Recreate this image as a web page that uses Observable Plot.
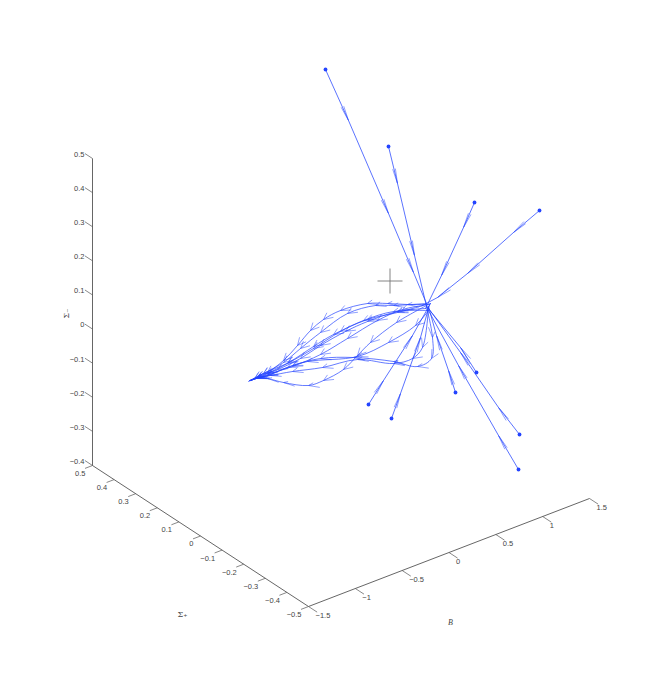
<!DOCTYPE html>
<html><head><meta charset="utf-8">
<script src="https://cdn.jsdelivr.net/npm/d3@7"></script>
<script src="https://cdn.jsdelivr.net/npm/@observablehq/plot@0.6"></script>
<style>html,body{margin:0;padding:0;background:#fff}svg{display:block;opacity:.999}</style>
</head><body><div id="chart"></div>
<script>
const bTicks=[-1.5,-1,-0.5,0,0.5,1,1.5];
const spTicks=[-0.5,-0.4,-0.3,-0.2,-0.1,0,0.1,0.2,0.3,0.4,0.5];
const smTicks=[-0.4,-0.3,-0.2,-0.1,0,0.1,0.2,0.3,0.4,0.5];
const bLabels=["−1.5","−1","−0.5","0","0.5","1","1.5"];
const spLabels=["−0.5","−0.4","−0.3","−0.2","−0.1","0","0.1","0.2","0.3","0.4","0.5"];
const smLabels=["−0.4","−0.3","−0.2","−0.1","0","0.1","0.2","0.3","0.4","0.5"];

// Ten trajectories (projected plane): straight approach, then the curve to the sink
const rayA=[[325,69],[348,120],[388,213],[413,272],[426,303]];
const rayB=[[388,146],[397,183],[414,255],[427,310]];
const rayC=[[474,202],[463,227],[441,275],[425,308]];
const rayD=[[539,210],[513,232],[467,273],[437,297],[422,305]];
const rayE=[[518,469],[498,435],[458,365],[428,310]];
const rayF=[[519,434],[498,407],[460,352],[426,305]];
const rayG=[[476,372],[460,347],[426,306]];
const rayH=[[455,392],[448,370],[436,335],[428,306]];
const rayI=[[391,418],[400,393],[420,337],[429,304]];
const rayJ=[[368,404],[383,380],[412,335],[430,303]];
const curveA=[[407,304],[387,303],[367,303],[340,310],[323,319],[310,330],[297,345],[283,360],[267,372],[257,377],[248,381]];
const curveB=[[393,311],[363,320],[340,331],[313,348],[287,363],[267,373],[256,378],[249,380]];
const curveC=[[397,311],[367,321],[345,331],[320,345],[300,358],[277,369],[258,376],[250,380]];
const curveD=[[402,309],[377,320],[347,338],[320,354],[292,366],[267,374],[256,378],[250,380]];
const curveE=[[415,325],[388,342],[357,356],[307,361],[287,367],[267,375],[256,378],[249,380]];
const curveF=[[396,322],[370,342],[357,355],[343,369],[323,380],[308,385],[283,382],[267,378],[257,377],[250,380]];
const curveG=[[432,337],[431,358],[417,366],[393,361],[353,357],[320,358],[292,365],[267,375],[255,378],[250,380]];
const curveH=[[422,347],[412,358],[393,363],[357,359],[322,367],[292,371],[270,375],[258,377],[250,380]];
const curveI=[[393,305],[375,305],[347,313],[320,332],[300,348],[283,362],[263,373],[255,377],[250,380]];
const curveJ=[[397,312],[367,319],[333,334],[313,346],[288,362],[263,373],[254,378],[249,380]];
const rays=[rayA,rayB,rayC,rayD,rayE,rayF,rayG,rayH,rayI,rayJ];
const curves=[curveI,curveB,curveC,curveD,curveE,curveF,curveG,curveH,curveA,curveJ];
const crossCentre=[389.5,280.5];

// Linear projection of the 3-D box onto the picture plane
const corner=[308,606];
const project=(b,sp,sm)=>[
  corner[0]+(b+1.5)/3*281-(sp+0.5)*216,
  corner[1]-(b+1.5)/3*108-(sp+0.5)*141-(sm+0.4)/0.9*307
];

const blue="#2444ff", axisColor="#555", textColor="#444";
const axisFont="Liberation Sans";

const rayLines=[],curveLines=[],arrows=[],starts=[];
rays.forEach((ray,k)=>{
  const hub=ray[ray.length-1];
  const pts=ray.concat(curves[k]);
  ray.forEach(p=>rayLines.push({x:p[0],y:p[1],k}));
  [hub,...curves[k]].forEach(p=>curveLines.push({x:p[0],y:p[1],k}));
  starts.push({x:ray[0][0],y:ray[0][1]});
  pts.forEach((p,i)=>{
    if(i===0||i===pts.length-1) return;
    const a=pts[i-1],c=pts[i+1];
    const n=Math.hypot(c[0]-a[0],c[1]-a[1]);
    const d=[(c[0]-a[0])/n,(c[1]-a[1])/n];
    let w1,w2;
    if(i<ray.length-1){
      w1=[p[0]-15*d[0]-1.4*d[1],p[1]-15*d[1]+1.4*d[0]];
      w2=[p[0]-15*d[0]+1.4*d[1],p[1]-15*d[1]-1.4*d[0]];
    } else if(i>=ray.length){
      w1=[p[0]-8*d[0]+4*0.82,p[1]-8*d[1]+4*0.57];
      w2=[p[0]-8*d[0]-4*0.82,p[1]-8*d[1]-4*0.57];
    } else return;
    arrows.push({x1:p[0],y1:p[1],x2:w1[0],y2:w1[1]});
    arrows.push({x1:p[0],y1:p[1],x2:w2[0],y2:w2[1]});
  });
});

const axisSegs=[
  {a:project(-1.5,-0.5,-0.4),b:project(1.5,-0.5,-0.4)},
  {a:project(-1.5,-0.5,-0.4),b:project(-1.5,0.5,-0.4)},
  {a:project(-1.5,0.5,-0.4),b:project(-1.5,0.5,0.5)}
];
const tickSegs=[
  ...bTicks.map(t=>({a:project(t,-0.5,-0.4),b:project(t,-0.54,-0.4)})),
  ...spTicks.map(t=>({a:project(-1.5,t,-0.4),b:project(-1.58,t,-0.4)})),
  ...smTicks.map(t=>({a:project(-1.5,0.5,t),b:project(-1.5,0.535,t)}))
];
const bText=bTicks.map((t,i)=>{const p=project(t,-0.5,-0.4);return{x:p[0],y:p[1],t:bLabels[i]}});
const spText=spTicks.map((t,i)=>{const p=project(-1.5,t,-0.4);return{x:p[0],y:p[1],t:spLabels[i]}});
const smText=smTicks.map((t,i)=>{const p=project(-1.5,0.5,t);return{x:p[0],y:p[1],t:smLabels[i]}});
const seg=(data,o)=>Plot.link(data,{x1:d=>d.a[0],y1:d=>d.a[1],x2:d=>d.b[0],y2:d=>d.b[1],...o});

const chart=Plot.plot({
  width:658,height:681,margin:0,
  x:{domain:[0,658],range:[0,658],axis:null},
  y:{domain:[0,681],range:[0,681],axis:null},
  style:{background:"#fff"},
  marks:[
    seg(axisSegs,{stroke:axisColor,strokeWidth:0.9}),
    seg(tickSegs,{stroke:axisColor,strokeWidth:0.7}),
    Plot.text(bText,{x:"x",y:"y",text:"t",textAnchor:"start",dx:7,dy:9,fontSize:7.5,fontFamily:axisFont,fill:textColor}),
    Plot.text(spText,{x:"x",y:"y",text:"t",textAnchor:"end",dx:-7,dy:8,fontSize:7.5,fontFamily:axisFont,fill:textColor}),
    Plot.text(smText,{x:"x",y:"y",text:"t",textAnchor:"end",dx:-8,dy:-4,fontSize:7.5,fontFamily:axisFont,fill:textColor}),
    Plot.text(["Σ₊"],{x:[182],y:[614],fontSize:8,fontFamily:"DejaVu Serif",fill:textColor}),
    Plot.text(["B"],{x:[450],y:[622],fontSize:8,fontStyle:"italic",fontFamily:"Liberation Serif",fill:textColor}),
    Plot.text(["Σ₋"],{x:[66],y:[313],rotate:-90,fontSize:8,fontFamily:"DejaVu Serif",fill:textColor}),
    Plot.line(rayLines,{x:"x",y:"y",z:"k",stroke:blue,strokeWidth:0.75}),
    Plot.line(curveLines,{x:"x",y:"y",z:"k",curve:"catmull-rom",stroke:blue,strokeWidth:0.7}),
    Plot.link(arrows,{x1:"x1",y1:"y1",x2:"x2",y2:"y2",stroke:blue,strokeWidth:0.5}),
    Plot.dot(starts,{x:"x",y:"y",r:1.9,fill:blue,stroke:"none"}),
    Plot.link([crossCentre],{x1:d=>d[0]-12.5,x2:d=>d[0]+12.5,y1:d=>d[1],y2:d=>d[1],stroke:"#777",strokeWidth:0.9}),
    Plot.link([crossCentre],{x1:d=>d[0],x2:d=>d[0],y1:d=>d[1]-12.5,y2:d=>d[1]+12.5,stroke:"#777",strokeWidth:0.9})
  ]
});
document.getElementById("chart").append(chart);
</script></body></html>
